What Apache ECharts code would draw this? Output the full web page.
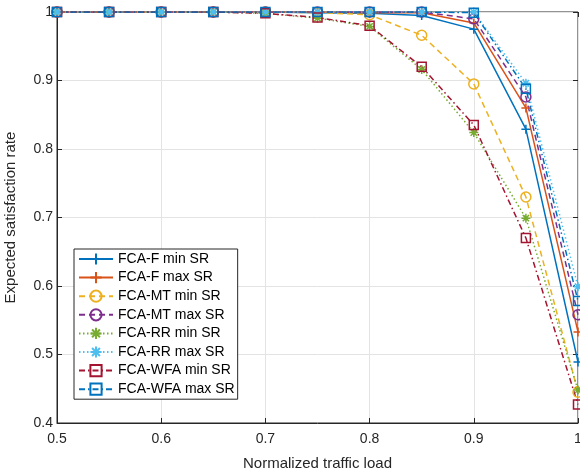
<!DOCTYPE html>
<html>
<head>
<meta charset="utf-8">
<script src="https://cdn.jsdelivr.net/npm/echarts@6/dist/echarts.min.js"></script>
<style>
  html, body { margin: 0; padding: 0; background: #fff; }
  #main { width: 580px; height: 475px; }
</style>
</head>
<body>
<div id="main"></div>
<script>
var load = [0.5, 0.55, 0.6, 0.65, 0.7, 0.75, 0.8, 0.85, 0.9, 0.95, 1.0];

var fMin   = [1, 1, 1, 1, 1, 0.999, 0.998, 0.995, 0.975, 0.829, 0.489];
var fMax   = [1, 1, 1, 1, 1, 1, 0.999, 0.999, 0.984, 0.860, 0.533];
var mtMin  = [1, 1, 1, 1, 1, 0.999, 0.996, 0.966, 0.895, 0.730, 0.445];
var mtMax  = [1, 1, 1, 1, 1, 1, 1, 1, 0.990, 0.876, 0.558];
var rrMin  = [1, 1, 1, 1, 0.998, 0.991, 0.979, 0.916, 0.824, 0.699, 0.448];
var rrMax  = [1, 1, 1, 1, 1, 1, 1, 1, 1, 0.896, 0.599];
var wfaMin = [1, 1, 1, 1, 0.998, 0.992, 0.980, 0.920, 0.835, 0.670, 0.427];
var wfaMax = [1, 1, 1, 1, 1, 1, 1, 1, 0.999, 0.888, 0.578];

var plusPath = 'path://M5,0L5,10M0,5L10,5';
var starPath = 'path://M5,0L5,10M0,5L10,5M1.5,1.5L8.5,8.5M1.5,8.5L8.5,1.5';

function pair(xs, ys) {
  return xs.map(function (x, i) { return [x, ys[i]]; });
}

function mkSeries(name, ys, color, type, symbol, size) {
  return {
    name: name,
    type: 'line',
    data: pair(load, ys),
    symbol: symbol,
    symbolSize: size,
    showAllSymbol: true,
    lineStyle: { color: color, width: 1.5, type: type },
    itemStyle: { color: 'transparent', borderColor: color, borderWidth: 1.5 },
    emphasis: { disabled: true },
    animation: false
  };
}

var fmt = function (v) { return String(+v.toFixed(1)); };
var font = '"Liberation Sans", Arial, sans-serif';

var chart = echarts.init(document.getElementById('main'));
chart.setOption({
  backgroundColor: '#fff',
  textStyle: { fontFamily: font },
  grid: {
    left: 57, right: 2, top: 12, bottom: 52,
    outerBoundsMode: 'none', containLabel: false,
    show: true, borderColor: '#262626', borderWidth: 1
  },
  legend: {
    orient: 'vertical',
    left: 74, top: 249,
    backgroundColor: '#fff',
    borderColor: '#262626', borderWidth: 1,
    padding: [3, 3, 3, 4],
    itemWidth: 34, itemHeight: 14, itemGap: 4.6,
    textStyle: { fontSize: 14, color: '#000', fontFamily: font }
  },
  xAxis: [{
    type: 'value', min: 0.5, max: 1, interval: 0.1,
    name: 'Normalized traffic load', nameLocation: 'middle', nameGap: 33,
    nameTextStyle: { fontSize: 15, color: '#262626' },
    axisLine: { lineStyle: { color: '#262626' } },
    axisTick: { inside: true, length: 5, lineStyle: { color: '#262626' } },
    axisLabel: { formatter: fmt, fontSize: 14, color: '#262626', margin: 9 },
    splitLine: { lineStyle: { color: '#e3e3e3' } }
  }, {
    type: 'value', position: 'top', min: 0.5, max: 1, interval: 0.1,
    axisLine: { show: false },
    axisTick: { inside: true, length: 5, lineStyle: { color: '#262626' } },
    axisLabel: { show: false }, splitLine: { show: false }
  }],
  yAxis: [{
    type: 'value', min: 0.4, max: 1, interval: 0.1,
    name: 'Expected satisfaction rate', nameLocation: 'middle', nameGap: 39,
    nameTextStyle: { fontSize: 15, color: '#262626' },
    axisLine: { show: true, lineStyle: { color: '#262626' } },
    axisTick: { show: true, inside: true, length: 5, lineStyle: { color: '#262626' } },
    axisLabel: { formatter: fmt, fontSize: 14, color: '#262626', margin: 4 },
    splitLine: { lineStyle: { color: '#e3e3e3' } }
  }, {
    type: 'value', position: 'right', min: 0.4, max: 1, interval: 0.1,
    axisLine: { show: false },
    axisTick: { show: true, inside: true, length: 5, lineStyle: { color: '#262626' } },
    axisLabel: { show: false }, splitLine: { show: false }
  }],
  series: [
    mkSeries('FCA-F min SR', fMin, '#0072BD', 'solid', plusPath, 9),
    mkSeries('FCA-F max SR', fMax, '#D95319', 'solid', plusPath, 9),
    mkSeries('FCA-MT min SR', mtMin, '#EDB120', [6, 4], 'circle', 10),
    mkSeries('FCA-MT max SR', mtMax, '#7E2F8E', [6, 4], 'circle', 10),
    mkSeries('FCA-RR min SR', rrMin, '#77AC30', [1.5, 2.5], starPath, 9),
    mkSeries('FCA-RR max SR', rrMax, '#4DBEEE', [1.5, 2.5], starPath, 9),
    mkSeries('FCA-WFA min SR', wfaMin, '#A2142F', [6, 3, 1.5, 3], 'rect', 9),
    mkSeries('FCA-WFA max SR', wfaMax, '#0072BD', [6, 3, 1.5, 3], 'rect', 9)
  ]
});
</script>
</body>
</html>
